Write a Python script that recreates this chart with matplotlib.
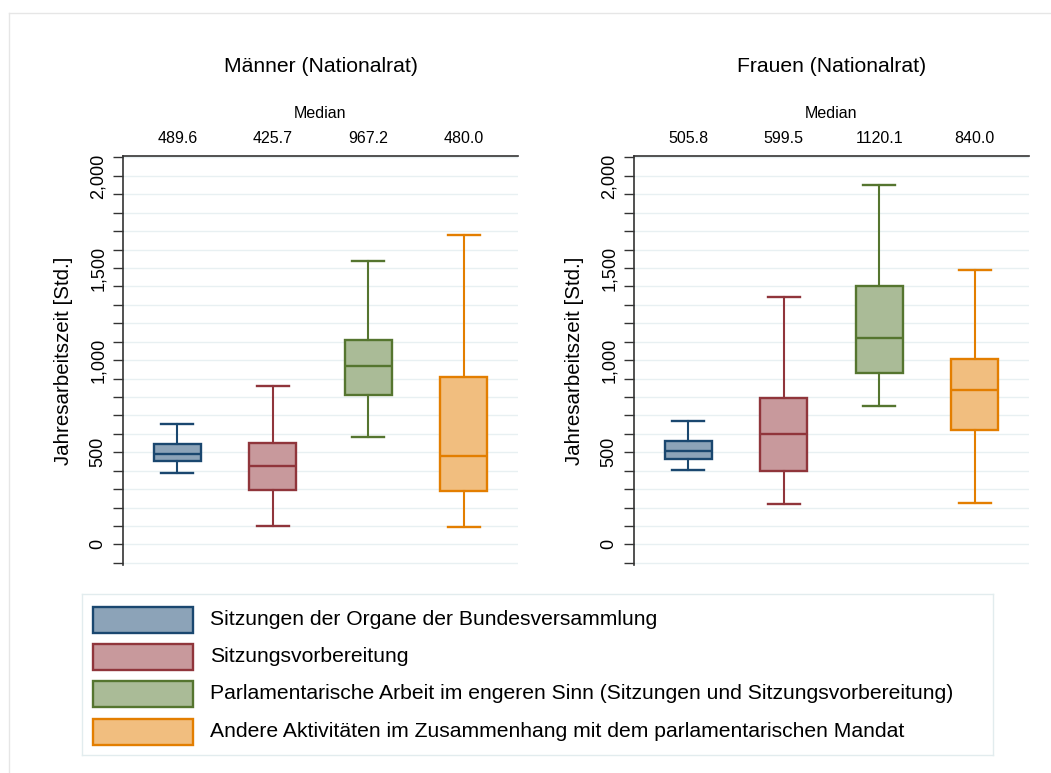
import matplotlib
matplotlib.use("Agg")
import matplotlib.pyplot as plt
from matplotlib.patches import Rectangle
from matplotlib.lines import Line2D
from matplotlib.ticker import FuncFormatter, MultipleLocator

plt.rcParams["font.family"] = ["Liberation Sans", "DejaVu Sans"]

# data (hours per year)
panels = ["Männer (Nationalrat)", "Frauen (Nationalrat)"]
categories = [
    "Sitzungen der Organe der Bundesversammlung",
    "Sitzungsvorbereitung",
    "Parlamentarische Arbeit im engeren Sinn (Sitzungen und Sitzungsvorbereitung)",
    "Andere Aktivitäten im Zusammenhang mit dem parlamentarischen Mandat",
]
men_whislo = [389, 100, 583, 94]
men_q1 = [452, 295, 809, 290]
men_med = [489.6, 425.7, 967.2, 480.0]
men_q3 = [547, 550, 1110, 910]
men_whishi = [655, 860, 1540, 1681]

women_whislo = [404, 221, 751, 226]
women_q1 = [461, 400, 932, 621]
women_med = [505.8, 599.5, 1120.1, 840.0]
women_q3 = [559, 795, 1404, 1008]
women_whishi = [670, 1345, 1949, 1488]

edge_colors = ["#1a476f", "#90353b", "#55752f", "#e37e00"]
fill_colors = ["#8ca3b8", "#c8999c", "#aabb97", "#f1be7f"]

W, H = 1051, 773
fig = plt.figure(figsize=(W / 100, H / 100), dpi=100)
fig.patch.set_facecolor("white")

# faint outer frame (top and left edge only visible)
fig.add_artist(Line2D([9 / W, 1], [1 - 13 / H, 1 - 13 / H], color="#e6e6e6", lw=1))
fig.add_artist(Line2D([9 / W, 9 / W], [0, 1 - 13 / H], color="#e6e6e6", lw=1))

datasets = [
    (men_whislo, men_q1, men_med, men_q3, men_whishi),
    (women_whislo, women_q1, women_med, women_q3, women_whishi),
]
lefts = [123.3, 634.3]

for p, (title, data) in enumerate(zip(panels, datasets)):
    ax = fig.add_axes([lefts[p] / W, 1 - 565 / H, 394.4 / W, 409 / H])
    whislo, q1, med, q3, whishi = data
    stats = []
    for i in range(len(categories)):
        stats.append({"whislo": whislo[i], "q1": q1[i], "med": med[i],
                      "q3": q3[i], "whishi": whishi[i], "fliers": []})
    bp = ax.bxp(stats, positions=[1, 2, 3, 4], widths=0.49, capwidths=0.34,
                patch_artist=True, showfliers=False, manage_ticks=False)
    for i in range(len(categories)):
        bp["boxes"][i].set_facecolor(fill_colors[i])
        bp["boxes"][i].set_edgecolor(edge_colors[i])
        bp["boxes"][i].set_linewidth(1.7)
        bp["medians"][i].set_color(edge_colors[i])
        bp["medians"][i].set_linewidth(1.7)
        for j in (2 * i, 2 * i + 1):
            bp["whiskers"][j].set_color(edge_colors[i])
            bp["whiskers"][j].set_linewidth(1.5)
            bp["caps"][j].set_color(edge_colors[i])
            bp["caps"][j].set_linewidth(1.7)

    ax.set_xlim(0.435, 4.565)
    ax.set_ylim(-112, 2108)
    ax.yaxis.set_major_locator(MultipleLocator(500))
    ax.yaxis.set_minor_locator(MultipleLocator(100))
    ax.yaxis.set_major_formatter(FuncFormatter(lambda v, pos: f"{v:,.0f}"))
    ax.grid(True, which="both", axis="y", color="#e8f0f2", lw=1)
    ax.set_axisbelow(True)
    ax.set_xticks([])
    ax.tick_params(axis="y", which="both", length=7, width=1, color="#333333",
                   labelsize=13, pad=5)
    for lab in ax.get_yticklabels():
        lab.set_rotation(90)
        lab.set_va("center")
    ax.spines["right"].set_visible(False)
    ax.spines["bottom"].set_visible(False)
    ax.spines["left"].set_color("#333333")
    ax.spines["top"].set_color("#333333")
    ax.spines["left"].set_linewidth(1.2)
    ax.spines["top"].set_linewidth(1.2)
    ax.set_ylabel("Jahresarbeitszeit [Std.]", fontsize=14.8, labelpad=12)

    # median values above the plot
    for i, m in enumerate(med):
        ax.text(i + 1, 1.0416, f"{m:.1f}", transform=ax.get_xaxis_transform(),
                ha="center", va="center", fontsize=11.5)
    ax.text(0.5, 1.105, "Median", transform=ax.transAxes, ha="center",
            va="center", fontsize=11.5)
    ax.text(0.5, 1.218, title, transform=ax.transAxes, ha="center",
            va="center", fontsize=15.2)

# legend box
lax = fig.add_axes([82 / W, 1 - 755 / H, (993 - 82) / W, (755 - 594) / H])
lax.set_xlim(0, 911)
lax.set_ylim(161, 0)
lax.set_xticks([])
lax.set_yticks([])
for s in lax.spines.values():
    s.set_color("#e2ecee")
    s.set_linewidth(1)
row_y = [25.5, 62.5, 99.5, 137.5]
for i, label in enumerate(categories):
    lax.add_patch(Rectangle((10.5, row_y[i] - 13), 100, 26, facecolor=fill_colors[i],
                            edgecolor=edge_colors[i], lw=1.7))
    lax.text(128, row_y[i], label, ha="left", va="center", fontsize=15.2)

fig.savefig("out.png", dpi=100)
